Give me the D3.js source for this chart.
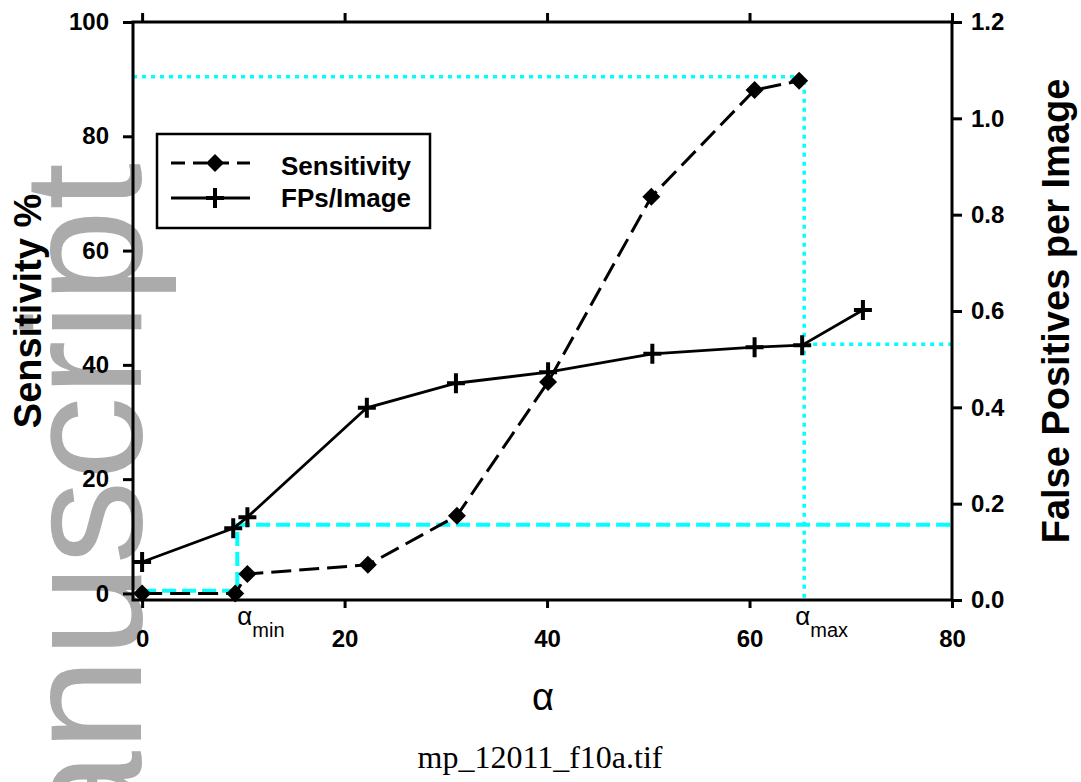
<!DOCTYPE html>
<html>
<head>
<meta charset="utf-8">
<script src="https://cdn.jsdelivr.net/npm/d3@7"></script>
<style>
  body { margin: 0; background: #fff; }
  text { font-family: "Liberation Sans", Arial, sans-serif; }
</style>
</head>
<body>
<div id="chart"></div>
<script>
// sensitivity (left axis, %)
const sensAlpha = [0, 9.2, 10.4, 22.3, 31.1, 40.1, 50.3, 60.5, 64.9];
const sensValue = [0, 0, 3.4, 5.0, 13.6, 37.0, 69.4, 88.1, 89.7];

// false positives per image (right axis)
const fpAlpha = [0, 9.0, 10.4, 22.2, 31.0, 40.1, 50.4, 60.5, 65.2, 71.2];
const fpValue = [0.079, 0.149, 0.172, 0.399, 0.450, 0.473, 0.511, 0.525, 0.529, 0.602];

// tick values
const xTicks = [0, 20, 40, 60, 80];
const leftTicks = [0, 20, 40, 60, 80, 100];
const rightTicks = [0, 0.2, 0.4, 0.6, 0.8, 1.0, 1.2];

// alpha limits and the guide levels
const alphaMin = 9.4;
const alphaMax = 65.4;
const sensAtMax = 90.4;
const fpAtMax = 0.531;
const fpAtMin = 0.156;
const fpLow = 0.019;

const width = 1081, height = 782;
const plotLeft = 133, plotRight = 952, plotTop = 22, plotBottom = 600;
const cyan = "#00ffff";

const svg = d3.select("#chart").append("svg")
    .attr("width", width)
    .attr("height", height);

const x = d3.scaleLinear().domain([-0.9, 80]).range([plotLeft, plotRight]);
const yL = d3.scaleLinear().domain([-1.15, 100]).range([plotBottom, plotTop]);
const yR = d3.scaleLinear().domain([0, 1.2]).range([plotBottom, plotTop]);

// watermark behind everything (cut off at the bottom like the original)
svg.append("text")
    .attr("transform", "translate(141,163) rotate(-90)")
    .attr("text-anchor", "end")
    .attr("font-size", "168px")
    .attr("fill", "#ababab")
    .text("Author Manuscript");

// cyan guide lines
const guide = d3.line().x(d => d[0]).y(d => d[1]);

svg.append("path")
    .attr("d", guide([[x(0), yR(fpLow)], [x(alphaMin), yR(fpLow)], [x(alphaMin), yR(fpAtMin)], [plotRight, yR(fpAtMin)]]))
    .attr("fill", "none").attr("stroke", cyan).attr("stroke-width", 4)
    .attr("stroke-dasharray", "14,6");

svg.append("path")
    .attr("d", guide([[plotLeft, yL(sensAtMax)], [x(alphaMax), yL(sensAtMax)], [x(alphaMax), plotBottom]]))
    .attr("fill", "none").attr("stroke", cyan).attr("stroke-width", 3.5)
    .attr("stroke-dasharray", "4,5");

svg.append("path")
    .attr("d", guide([[x(alphaMax), yR(fpAtMax)], [plotRight, yR(fpAtMax)]]))
    .attr("fill", "none").attr("stroke", cyan).attr("stroke-width", 3.5)
    .attr("stroke-dasharray", "4,5");

// data lines
const sensData = sensAlpha.map((a, i) => ({a: a, v: sensValue[i]}));
const fpData = fpAlpha.map((a, i) => ({a: a, v: fpValue[i]}));

svg.append("path")
    .datum(sensData)
    .attr("d", d3.line().x(d => x(d.a)).y(d => yL(d.v)))
    .attr("fill", "none").attr("stroke", "#000").attr("stroke-width", 3)
    .attr("stroke-dasharray", "20,8");

svg.append("path")
    .datum(fpData)
    .attr("d", d3.line().x(d => x(d.a)).y(d => yR(d.v)))
    .attr("fill", "none").attr("stroke", "#000").attr("stroke-width", 2.8);

function diamond(g, cx, cy) {
    g.append("path")
        .attr("d", `M${cx},${cy - 9}L${cx + 9},${cy}L${cx},${cy + 9}L${cx - 9},${cy}Z`)
        .attr("fill", "#000");
}
function plus(g, cx, cy) {
    g.append("path")
        .attr("d", `M${cx - 9},${cy}H${cx + 9}M${cx},${cy - 10}V${cy + 10}`)
        .attr("stroke", "#000").attr("stroke-width", 4);
}

sensData.forEach(d => diamond(svg, x(d.a), yL(d.v)));
fpData.forEach(d => plus(svg, x(d.a), yR(d.v)));

// axes
function styleAxis(g) {
    g.select(".domain").remove();
    g.selectAll(".tick line").attr("stroke", "#000").attr("stroke-width", 3);
    g.selectAll("text")
        .attr("font-size", "24px")
        .attr("font-weight", "bold")
        .attr("fill", "#000")
        .style("font-family", '"Liberation Sans", Arial, sans-serif');
}

svg.append("g")
    .attr("transform", `translate(0,${plotBottom})`)
    .call(d3.axisBottom(x).tickValues(xTicks).tickSize(8).tickPadding(22).tickFormat(d3.format("d")))
    .call(styleAxis);

svg.append("g")
    .attr("transform", `translate(0,${plotTop})`)
    .call(d3.axisTop(x).tickValues(xTicks).tickSize(9).tickFormat(""))
    .call(styleAxis);

svg.append("g")
    .attr("transform", `translate(${plotLeft},0)`)
    .call(d3.axisLeft(yL).tickValues(leftTicks).tickSize(10).tickPadding(14).tickFormat(d3.format("d")))
    .call(styleAxis);

svg.append("g")
    .attr("transform", `translate(${plotRight},0)`)
    .call(d3.axisRight(yR).tickValues(rightTicks).tickSize(10).tickPadding(9).tickFormat(d3.format(".1f")))
    .call(styleAxis);

// frame
svg.append("rect")
    .attr("x", plotLeft).attr("y", plotTop)
    .attr("width", plotRight - plotLeft).attr("height", plotBottom - plotTop)
    .attr("fill", "none").attr("stroke", "#000").attr("stroke-width", 3);

// alpha min / max labels under the axis
function alphaLabel(px, sub) {
    const t = svg.append("text")
        .attr("x", px).attr("y", 625)
        .attr("font-size", "26px")
        .attr("fill", "#000");
    t.append("tspan").text("α");
    t.append("tspan").attr("font-size", "20px").attr("dy", 12).text(sub);
}
alphaLabel(x(alphaMin), "min");
alphaLabel(x(alphaMax) - 9, "max");

// axis titles
svg.append("text")
    .attr("x", 543).attr("y", 710)
    .attr("text-anchor", "middle")
    .attr("font-size", "38px")
    .text("α");

svg.append("text")
    .attr("transform", `translate(41,${(plotTop + plotBottom) / 2}) rotate(-90)`)
    .attr("text-anchor", "middle")
    .attr("font-size", "38px")
    .attr("font-weight", "bold")
    .text("Sensitivity %");

svg.append("text")
    .attr("transform", `translate(1069,${(plotTop + plotBottom) / 2}) rotate(-90)`)
    .attr("text-anchor", "middle")
    .attr("font-size", "38px")
    .attr("font-weight", "bold")
    .text("False Positives per Image");

// legend
const legend = svg.append("g");
legend.append("rect")
    .attr("x", 157).attr("y", 134).attr("width", 273).attr("height", 94)
    .attr("fill", "none").attr("stroke", "#000").attr("stroke-width", 2.5);

legend.append("line")
    .attr("x1", 171).attr("x2", 250).attr("y1", 163).attr("y2", 163)
    .attr("stroke", "#000").attr("stroke-width", 3).attr("stroke-dasharray", "14,8");
diamond(legend, 215, 163);
legend.append("text")
    .attr("x", 281).attr("y", 175)
    .attr("font-size", "26px").attr("font-weight", "bold")
    .text("Sensitivity");

legend.append("line")
    .attr("x1", 171).attr("x2", 250).attr("y1", 198).attr("y2", 198)
    .attr("stroke", "#000").attr("stroke-width", 2.8);
plus(legend, 215, 198);
legend.append("text")
    .attr("x", 281).attr("y", 207)
    .attr("font-size", "26px").attr("font-weight", "bold")
    .text("FPs/Image");

// file caption
svg.append("text")
    .attr("x", 540).attr("y", 768)
    .attr("text-anchor", "middle")
    .attr("font-size", "32px")
    .style("font-family", '"Liberation Serif", "Times New Roman", serif')
    .text("mp_12011_f10a.tif");
</script>
</body>
</html>
